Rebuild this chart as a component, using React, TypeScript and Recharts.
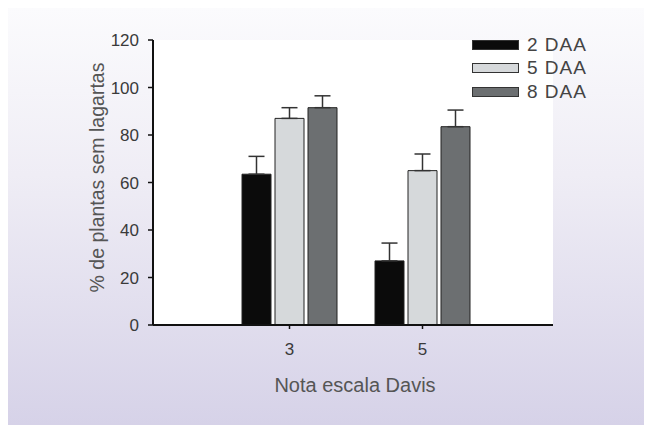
import React from 'react';
import {
  BarChart,
  Bar,
  XAxis,
  YAxis,
  CartesianGrid,
  ErrorBar,
  Legend,
  Label,
} from 'recharts';

const notas = ['3', '5'];
const daa2 = [63.5, 27];
const daa5 = [87, 65];
const daa8 = [91.5, 83.5];
const err2 = [7.5, 7.5];
const err5 = [4.5, 7];
const err8 = [5, 7];
const yTicks = [0, 20, 40, 60, 80, 100, 120];

const series = [
  { key: 'd2', name: '2 DAA', fill: '#0b0b0b' },
  { key: 'd5', name: '5 DAA', fill: '#d6d9db' },
  { key: 'd8', name: '8 DAA', fill: '#6c6f71' },
];

// upward-only error bars: [low, high]
const data = notas.map((nota, i) => ({
  nota,
  d2: daa2[i],
  d5: daa5[i],
  d8: daa8[i],
  e2: [0, err2[i]],
  e5: [0, err5[i]],
  e8: [0, err8[i]],
}));

const FONT = '"Liberation Sans", Arial, sans-serif';

function LegendBox() {
  return (
    <div style={{ fontFamily: FONT }}>
      {series.map((s) => (
        <div
          key={s.key}
          style={{ display: 'flex', alignItems: 'center', height: 23.5 }}
        >
          <div
            style={{
              width: 45,
              height: 8,
              background: s.fill,
              border: '1px solid #333',
              marginRight: 8,
            }}
          />
          <span style={{ fontSize: 19, color: '#444', letterSpacing: 1 }}>
            {s.name}
          </span>
        </div>
      ))}
    </div>
  );
}

const YLabel = (props: any) => {
  const { viewBox } = props;
  const x = viewBox.x + 89;
  const y = viewBox.y + viewBox.height / 2 - 5;
  return (
    <text
      x={x}
      y={y}
      transform={`rotate(-90, ${x}, ${y})`}
      textAnchor="middle"
      dominantBaseline="central"
      fill="#555"
      fontSize={19.5}
      fontFamily={FONT}
    >
      % de plantas sem lagartas
    </text>
  );
};

const XLabel = (props: any) => {
  const { viewBox } = props;
  const x = viewBox.x + viewBox.width / 2 + 2;
  const y = viewBox.y + 60;
  return (
    <text
      x={x}
      y={y}
      textAnchor="middle"
      dominantBaseline="central"
      fill="#555"
      fontSize={20}
      fontFamily={FONT}
    >
      Nota escala Davis
    </text>
  );
};

export default function App() {
  return (
    <div
      style={{
        width: 644,
        height: 417,
        background: 'linear-gradient(to bottom, #fbfbfd 0%, #efedf5 40%, #d6d2e8 100%)',
      }}
    >
      <BarChart
        width={644}
        height={417}
        data={data}
        margin={{ top: 32, right: 99, bottom: 70, left: 0 }}
        barSize={29}
        barGap={4}
      >
        <CartesianGrid fill="#ffffff" horizontal={false} vertical={false} />
        <XAxis
          dataKey="nota"
          height={30}
          padding={{ left: 70, right: 64 }}
          axisLine={{ stroke: '#111', strokeWidth: 2 }}
          tickLine={{ stroke: '#111', strokeWidth: 1.5 }}
          tickSize={4}
          tickMargin={14}
          tick={{ fill: '#3a3a3a', fontSize: 17, fontFamily: FONT }}
        >
          <Label content={XLabel} />
        </XAxis>
        <YAxis
          width={145}
          domain={[0, 120]}
          ticks={yTicks}
          axisLine={{ stroke: '#111', strokeWidth: 2 }}
          tickLine={{ stroke: '#111', strokeWidth: 1.5 }}
          tickSize={5}
          tickMargin={9}
          tick={{ fill: '#3a3a3a', fontSize: 17, fontFamily: FONT }}
        >
          <Label content={YLabel} />
        </YAxis>
        <Legend
          layout="horizontal"
          verticalAlign="middle"
          align="center"
          content={() => <LegendBox />}
          wrapperStyle={{ left: 464, top: 25, width: 140, right: 'auto', bottom: 'auto' }}
        />
        {series.map((s, i) => (
          <Bar
            key={s.key}
            dataKey={s.key}
            name={s.name}
            fill={s.fill}
            stroke="#222"
            strokeWidth={1}
            isAnimationActive={false}
          >
            <ErrorBar
              dataKey={['e2', 'e5', 'e8'][i]}
              width={8}
              stroke="#333"
              strokeWidth={1.5}
              direction="y"
            />
          </Bar>
        ))}
      </BarChart>
    </div>
  );
}
